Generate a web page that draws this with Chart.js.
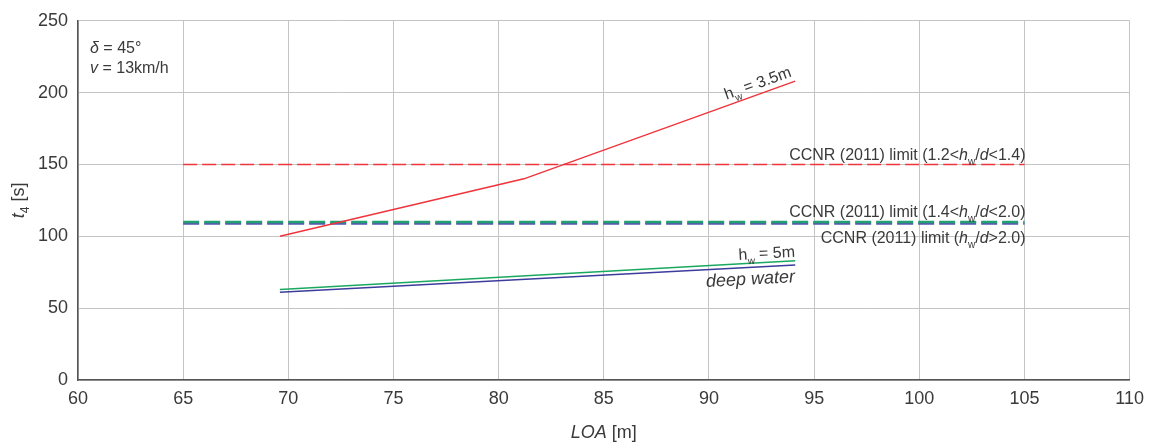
<!DOCTYPE html>
<html>
<head>
<meta charset="utf-8">
<script src="https://cdn.jsdelivr.net/npm/chart.js@4/dist/chart.umd.min.js"></script>
<style>
html,body{margin:0;padding:0;background:#fff;}
#wrap{width:1152px;height:443px;position:relative;}
</style>
</head>
<body>
<div id="wrap"><canvas id="c" width="1152" height="443"></canvas></div>
<script>
// ---- data ----
const xTicks = [60, 65, 70, 75, 80, 85, 90, 95, 100, 105, 110];
const yTicks = [0, 50, 100, 150, 200, 250];
const loaShallow = [69.6, 81.2, 94.1];
const tShallow35 = [100, 140, 208];
const loaDeep = [69.6, 94.1];
const tShallow5 = [63, 83];
const tDeepWater = [61, 80];
const limitLoa = [65, 105];
const limit12_14 = [150, 150];
const limit14_20 = [110, 110];
const limitAbove20 = [109, 109];

const toPts = (xs, ys) => xs.map((x, i) => ({x: x, y: ys[i]}));

const FONT = "'Liberation Sans', Arial, sans-serif";
const TXT = '#3a3a3a';

function drawRich(ctx, parts, x, y, size, align, angle) {
  ctx.save();
  ctx.translate(x, y);
  if (angle) ctx.rotate(angle);
  ctx.textBaseline = 'alphabetic';
  ctx.textAlign = 'left';
  const fontOf = p => (p.i ? 'italic ' : '') + (p.sub ? Math.round(size * 0.65) : size) + 'px ' + FONT;
  let total = 0;
  parts.forEach(p => { ctx.font = fontOf(p); total += ctx.measureText(p.t).width; });
  let cx = align === 'right' ? -total : (align === 'center' ? -total / 2 : 0);
  parts.forEach(p => {
    ctx.font = fontOf(p);
    ctx.fillStyle = TXT;
    ctx.fillText(p.t, cx, p.sub ? size * 0.3 : 0);
    cx += ctx.measureText(p.t).width;
  });
  ctx.restore();
}

const labelsPlugin = {
  id: 'labels',
  afterDraw(chart) {
    const ctx = chart.ctx;
    const xs = chart.scales.x, ys = chart.scales.y;
    const X = v => xs.getPixelForValue(v), Y = v => ys.getPixelForValue(v);
    // top-left annotation
    drawRich(ctx, [{t:'δ', i:true}, {t:' = 45°'}], 90, 53, 16, 'left');
    drawRich(ctx, [{t:'v', i:true}, {t:' = 13km/h'}], 90, 73, 16, 'left');
    // CCNR labels
    drawRich(ctx, [{t:'CCNR (2011) limit (1.2<'}, {t:'h', i:true}, {t:'w', sub:true}, {t:'/'}, {t:'d', i:true}, {t:'<1.4)'}], X(limitLoa[1]) + 1, Y(limit12_14[0]) - 4, 16, 'right');
    drawRich(ctx, [{t:'CCNR (2011) limit (1.4<'}, {t:'h', i:true}, {t:'w', sub:true}, {t:'/'}, {t:'d', i:true}, {t:'<2.0)'}], X(limitLoa[1]) + 1, Y(limit14_20[0]) - 5, 16, 'right');
    drawRich(ctx, [{t:'CCNR (2011) limit ('}, {t:'h', i:true}, {t:'w', sub:true}, {t:'/'}, {t:'d', i:true}, {t:'>2.0)'}], X(limitLoa[1]) + 1, Y(limitAbove20[0]) + 20, 16, 'right');
    // hw = 3.5 m along red line
    const n = loaShallow.length;
    const x1 = X(loaShallow[n-2]), y1 = Y(tShallow35[n-2]);
    const x2 = X(loaShallow[n-1]), y2 = Y(tShallow35[n-1]);
    const ang = Math.atan2(y2 - y1, x2 - x1);
    drawRich(ctx, [{t:'h', i:false}, {t:'w', sub:true}, {t:' = 3.5m'}], x2 - 3, y2 - 5, 16, 'right', ang);
    // hw = 5m and deep water
    const gx1 = X(loaDeep[0]), gy1 = Y(tShallow5[0]), gx2 = X(loaDeep[1]), gy2 = Y(tShallow5[1]);
    const gang = Math.atan2(gy2 - gy1, gx2 - gx1);
    drawRich(ctx, [{t:'h'}, {t:'w', sub:true}, {t:' = 5m'}], gx2, gy2 - 4, 16, 'right', gang);
    const bx2 = X(loaDeep[1]), by2 = Y(tDeepWater[1]);
    drawRich(ctx, [{t:'deep water', i:true}], bx2, by2 + 17, 18, 'right', gang);
    // axis titles
    drawRich(ctx, [{t:'LOA', i:true}, {t:' [m]'}], (xs.left + xs.right) / 2, 438, 18, 'center');
    drawRich(ctx, [{t:'t', i:true}, {t:'4', sub:true}, {t:' [s]'}], 24, (ys.top + ys.bottom) / 2, 18, 'center', -Math.PI / 2);
  }
};

new Chart(document.getElementById('c'), {
  type: 'scatter',
  data: {
    datasets: [
      {data: toPts(limitLoa, limitAbove20), borderColor: '#5656b4', borderWidth: 2.5, borderDash: [16, 5], showLine: true, pointRadius: 0, order: 5},
      {data: toPts(limitLoa, limit14_20), borderColor: '#22a070', borderWidth: 2.5, borderDash: [16, 5], showLine: true, pointRadius: 0, order: 4},
      {data: toPts(limitLoa, limit12_14), borderColor: '#f0343c', borderWidth: 1.5, borderDash: [14, 5], showLine: true, pointRadius: 0, order: 3},
      {data: toPts(loaDeep, tDeepWater), borderColor: '#3c3c9c', borderWidth: 1.5, showLine: true, pointRadius: 0, order: 2},
      {data: toPts(loaDeep, tShallow5), borderColor: '#1aa860', borderWidth: 1.5, showLine: true, pointRadius: 0, order: 1},
      {data: toPts(loaShallow, tShallow35), borderColor: '#f0343c', borderWidth: 1.5, showLine: true, pointRadius: 0, order: 0}
    ]
  },
  options: {
    responsive: false,
    animation: false,
    devicePixelRatio: 1,
    layout: {padding: {left: 0, right: 21, top: 19, bottom: 0}},
    plugins: {legend: {display: false}, tooltip: {enabled: false}},
    scales: {
      x: {
        type: 'linear', min: 60, max: 110,
        afterBuildTicks: s => { s.ticks = xTicks.map(v => ({value: v})); },
        afterFit: s => { s.height = 63; },
        grid: {color: '#c4c4c4', lineWidth: 1, drawTicks: false},
        border: {color: '#555', width: 1.5},
        ticks: {color: TXT, font: {family: FONT, size: 18}, padding: 8, maxRotation: 0}
      },
      y: {
        type: 'linear', min: 0, max: 250,
        afterBuildTicks: s => { s.ticks = yTicks.map(v => ({value: v})); },
        afterFit: s => { s.width = 78; },
        grid: {color: '#c4c4c4', lineWidth: 1, drawTicks: false},
        border: {color: '#555', width: 1.5},
        ticks: {color: TXT, font: {family: FONT, size: 18}, padding: 10}
      }
    }
  },
  plugins: [labelsPlugin]
});
</script>
</body>
</html>
